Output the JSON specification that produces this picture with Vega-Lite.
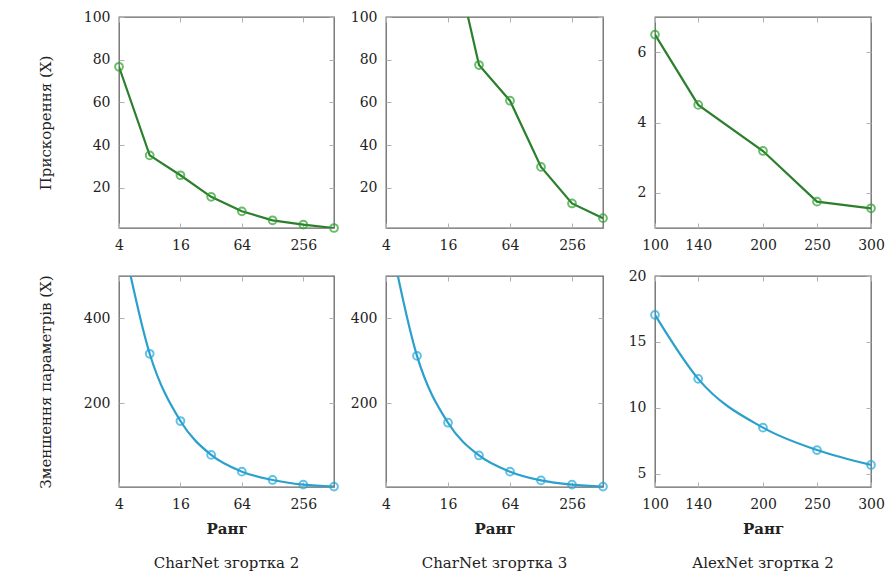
{
  "$schema": "https://vega.github.io/schema/vega-lite/v6.json",
  "background": "white",
  "padding": {"left": 37, "top": 9, "right": 5, "bottom": 5},
  "datasets": {
    "p1": [{"rank": 4, "value": 76.7}, {"rank": 8, "value": 35.2}, {"rank": 16, "value": 25.9}, {"rank": 32, "value": 15.8}, {"rank": 64, "value": 9.0}, {"rank": 128, "value": 4.8}, {"rank": 256, "value": 2.8}, {"rank": 512, "value": 1.2}],
    "p2": [{"rank": 16, "value": 141}, {"rank": 32, "value": 77.5}, {"rank": 64, "value": 60.8}, {"rank": 128, "value": 29.8}, {"rank": 256, "value": 12.7}, {"rank": 512, "value": 5.8}],
    "p3": [{"rank": 100, "value": 6.5}, {"rank": 140, "value": 4.5}, {"rank": 200, "value": 3.19}, {"rank": 250, "value": 1.75}, {"rank": 300, "value": 1.56}],
    "p4": [{"rank": 4, "value": 630}, {"rank": 8, "value": 317}, {"rank": 16, "value": 158.7}, {"rank": 32, "value": 79}, {"rank": 64, "value": 39.6}, {"rank": 128, "value": 20}, {"rank": 256, "value": 9}, {"rank": 512, "value": 4.5}],
    "p5": [{"rank": 4, "value": 636}, {"rank": 8, "value": 312}, {"rank": 16, "value": 154.7}, {"rank": 32, "value": 77.7}, {"rank": 64, "value": 39.6}, {"rank": 128, "value": 19}, {"rank": 256, "value": 9}, {"rank": 512, "value": 4.5}],
    "p6": [{"rank": 100, "value": 17.05}, {"rank": 140, "value": 12.2}, {"rank": 200, "value": 8.5}, {"rank": 250, "value": 6.8}, {"rank": 300, "value": 5.67}]
  },
  "config": {
    "font": "DejaVu Serif",
    "view": {"stroke": "#666", "strokeWidth": 1.3},
    "axis": {"domain": false, "grid": false, "tickColor": "#b0b0b0", "tickSize": -5, "tickWidth": 1, "labelFont": "DejaVu Serif", "labelFontSize": 14, "labelColor": "#222", "labelFlush": false, "labelOverlap": false, "labelBound": false, "titleFont": "DejaVu Serif", "titleFontSize": 15, "titleColor": "#222", "titleFontWeight": "normal"},
    "axisX": {"labelPadding": 15},
    "axisY": {"labelPadding": 14},
    "title": {"font": "DejaVu Serif", "fontSize": 15, "fontWeight": "normal", "color": "#222"}
  },
  "bounds": "flush",
  "columns": 3,
  "spacing": {"row": 48, "column": 52},
  "concat": [
    {
      "width": 215, "height": 211,
      "data": {"name": "p1"},
      "layer": [
        {"mark": {"type": "line", "color": "#2b7f2d", "strokeWidth": 2.2, "clip": true},
         "encoding": {
           "x": {"field": "rank", "type": "quantitative", "scale": {"type": "log", "base": 2, "domain": [4, 512], "nice": false}, "axis": {"orient": "bottom", "values": [4, 16, 64, 256], "format": "d", "title": null}},
           "y": {"field": "value", "type": "quantitative", "scale": {"domain": [1.2, 100], "nice": false, "zero": false}, "axis": {"orient": "left", "values": [20, 40, 60, 80, 100], "title": "Прискорення (X)", "titlePadding": 30}}
         }},
        {"transform": [{"filter": "datum.value <= 100"}],
         "mark": {"type": "point", "shape": "circle", "filled": false, "size": 60, "strokeWidth": 2, "color": "#2aa02a", "clip": false},
         "encoding": {
           "x": {"field": "rank", "type": "quantitative", "axis": {"orient": "top", "labels": false, "values": [4, 16, 64, 256], "title": null}},
           "y": {"field": "value", "type": "quantitative", "axis": {"orient": "right", "labels": false, "values": [20, 40, 60, 80, 100], "title": null}}
         }}
      ]
    },
    {
      "width": 217, "height": 211,
      "data": {"name": "p2"},
      "layer": [
        {"mark": {"type": "line", "color": "#2b7f2d", "strokeWidth": 2.2, "clip": true},
         "encoding": {
           "x": {"field": "rank", "type": "quantitative", "scale": {"type": "log", "base": 2, "domain": [4, 512], "nice": false}, "axis": {"orient": "bottom", "values": [4, 16, 64, 256], "format": "d", "title": null}},
           "y": {"field": "value", "type": "quantitative", "scale": {"domain": [1.2, 100], "nice": false, "zero": false}, "axis": {"orient": "left", "values": [20, 40, 60, 80, 100], "title": null}}
         }},
        {"transform": [{"filter": "datum.value <= 100"}],
         "mark": {"type": "point", "shape": "circle", "filled": false, "size": 60, "strokeWidth": 2, "color": "#2aa02a", "clip": false},
         "encoding": {
           "x": {"field": "rank", "type": "quantitative", "axis": {"orient": "top", "labels": false, "values": [4, 16, 64, 256], "title": null}},
           "y": {"field": "value", "type": "quantitative", "axis": {"orient": "right", "labels": false, "values": [20, 40, 60, 80, 100], "title": null}}
         }}
      ]
    },
    {
      "width": 216, "height": 211,
      "data": {"name": "p3"},
      "layer": [
        {"mark": {"type": "line", "color": "#2b7f2d", "strokeWidth": 2.2, "clip": true},
         "encoding": {
           "x": {"field": "rank", "type": "quantitative", "scale": {"domain": [100, 300], "nice": false, "zero": false}, "axis": {"orient": "bottom", "values": [100, 140, 200, 250, 300], "title": null}},
           "y": {"field": "value", "type": "quantitative", "scale": {"domain": [1, 7], "nice": false, "zero": false}, "axis": {"orient": "left", "values": [2, 4, 6], "title": null}}
         }},
        {"mark": {"type": "point", "shape": "circle", "filled": false, "size": 60, "strokeWidth": 2, "color": "#2aa02a", "clip": false},
         "encoding": {
           "x": {"field": "rank", "type": "quantitative", "axis": {"orient": "top", "labels": false, "values": [100, 140, 200, 250, 300], "title": null}},
           "y": {"field": "value", "type": "quantitative", "axis": {"orient": "right", "labels": false, "values": [2, 4, 6], "title": null}}
         }}
      ]
    },
    {
      "width": 215, "height": 211,
      "data": {"name": "p4"},
      "title": {"text": "CharNet згортка 2", "orient": "bottom", "offset": 20},
      "layer": [
        {"mark": {"type": "line", "color": "#2ba0cc", "strokeWidth": 2.2, "clip": true, "interpolate": "monotone"},
         "encoding": {
           "x": {"field": "rank", "type": "quantitative", "scale": {"type": "log", "base": 2, "domain": [4, 512], "nice": false}, "axis": {"orient": "bottom", "values": [4, 16, 64, 256], "format": "d", "title": "Ранг", "titleFontWeight": "bold", "titlePadding": 10}},
           "y": {"field": "value", "type": "quantitative", "scale": {"domain": [3.5, 500], "nice": false, "zero": false}, "axis": {"orient": "left", "values": [200, 400], "title": "Зменшення параметрів (X)", "titlePadding": 30}}
         }},
        {"transform": [{"filter": "datum.value <= 500"}],
         "mark": {"type": "point", "shape": "circle", "filled": false, "size": 60, "strokeWidth": 2, "color": "#1fa6dc", "clip": false},
         "encoding": {
           "x": {"field": "rank", "type": "quantitative", "axis": {"orient": "top", "labels": false, "values": [4, 16, 64, 256], "title": null}},
           "y": {"field": "value", "type": "quantitative", "axis": {"orient": "right", "labels": false, "values": [200, 400], "title": null}}
         }}
      ]
    },
    {
      "width": 217, "height": 211,
      "data": {"name": "p5"},
      "title": {"text": "CharNet згортка 3", "orient": "bottom", "offset": 20},
      "layer": [
        {"mark": {"type": "line", "color": "#2ba0cc", "strokeWidth": 2.2, "clip": true, "interpolate": "monotone"},
         "encoding": {
           "x": {"field": "rank", "type": "quantitative", "scale": {"type": "log", "base": 2, "domain": [4, 512], "nice": false}, "axis": {"orient": "bottom", "values": [4, 16, 64, 256], "format": "d", "title": "Ранг", "titleFontWeight": "bold", "titlePadding": 10}},
           "y": {"field": "value", "type": "quantitative", "scale": {"domain": [3.5, 500], "nice": false, "zero": false}, "axis": {"orient": "left", "values": [200, 400], "title": null}}
         }},
        {"transform": [{"filter": "datum.value <= 500"}],
         "mark": {"type": "point", "shape": "circle", "filled": false, "size": 60, "strokeWidth": 2, "color": "#1fa6dc", "clip": false},
         "encoding": {
           "x": {"field": "rank", "type": "quantitative", "axis": {"orient": "top", "labels": false, "values": [4, 16, 64, 256], "title": null}},
           "y": {"field": "value", "type": "quantitative", "axis": {"orient": "right", "labels": false, "values": [200, 400], "title": null}}
         }}
      ]
    },
    {
      "width": 216, "height": 211,
      "data": {"name": "p6"},
      "title": {"text": "AlexNet згортка 2", "orient": "bottom", "offset": 20},
      "layer": [
        {"mark": {"type": "line", "color": "#2ba0cc", "strokeWidth": 2.2, "clip": true, "interpolate": "monotone"},
         "encoding": {
           "x": {"field": "rank", "type": "quantitative", "scale": {"domain": [100, 300], "nice": false, "zero": false}, "axis": {"orient": "bottom", "values": [100, 140, 200, 250, 300], "title": "Ранг", "titleFontWeight": "bold", "titlePadding": 10}},
           "y": {"field": "value", "type": "quantitative", "scale": {"domain": [4, 20], "nice": false, "zero": false}, "axis": {"orient": "left", "values": [5, 10, 15, 20], "title": null}}
         }},
        {"mark": {"type": "point", "shape": "circle", "filled": false, "size": 60, "strokeWidth": 2, "color": "#1fa6dc", "clip": false},
         "encoding": {
           "x": {"field": "rank", "type": "quantitative", "axis": {"orient": "top", "labels": false, "values": [100, 140, 200, 250, 300], "title": null}},
           "y": {"field": "value", "type": "quantitative", "axis": {"orient": "right", "labels": false, "values": [5, 10, 15, 20], "title": null}}
         }}
      ]
    }
  ]
}
